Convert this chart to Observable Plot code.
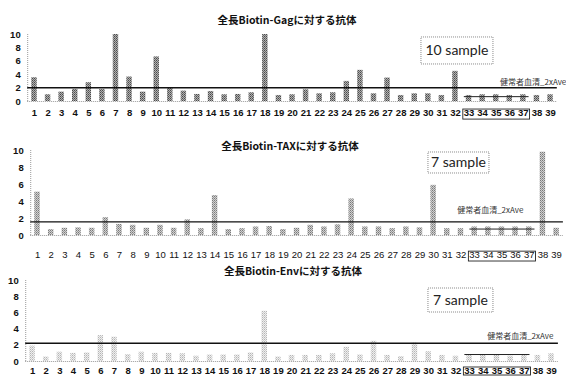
<!DOCTYPE html>
<html><head><meta charset="utf-8">
<script src="https://cdn.jsdelivr.net/npm/d3@7"></script>
<script src="https://cdn.jsdelivr.net/npm/@observablehq/plot@0.6"></script>
<style>
body{margin:0;background:#fff;width:566px;height:378px;overflow:hidden;position:relative;}
.panel{position:absolute;left:0;width:566px;}
.panel svg{background:transparent !important;overflow:visible;}
.title{position:absolute;z-index:5;font-family:"Noto Sans CJK JP",sans-serif;font-weight:bold;font-size:10.5px;white-space:nowrap;transform:translate(-50%,-50%);color:#111;}
</style></head><body>
<svg width="0" height="0" style="position:absolute"><defs>
<pattern id="pat1" width="2" height="2" patternUnits="userSpaceOnUse"><rect width="2" height="2" fill="#b0b0b0"/><rect width="1" height="1" fill="#4a4a4a"/><rect x="1" y="1" width="1" height="1" fill="#6a6a6a"/></pattern>
<pattern id="pat2" width="2" height="2" patternUnits="userSpaceOnUse"><rect width="2" height="2" fill="#d0d0d0"/><rect width="1" height="1" fill="#7a7a7a"/><rect x="1" y="1" width="1" height="1" fill="#999"/></pattern>
<pattern id="pat3" width="2" height="2" patternUnits="userSpaceOnUse"><rect width="2" height="2" fill="#eeeeee"/><rect width="1" height="1" fill="#b5b5b5"/><rect x="1" y="1" width="1" height="1" fill="#cfcfcf"/></pattern>
</defs></svg>
<div id="root"></div>
<script>
const samples = ["1","2","3","4","5","6","7","8","9","10","11","12","13","14","15","16","17","18","19","20","21","22","23","24","25","26","27","28","29","30","31","32","33","34","35","36","37","38","39"];
const yTicks = [0, 2, 4, 6, 8, 10];
const titles = ["全長Biotin-Gagに対する抗体", "全長Biotin-TAXに対する抗体", "全長Biotin-Envに対する抗体"];
const gagValues = [3.55,1.0,1.4,1.8,2.8,1.8,10,3.65,1.4,6.65,2.0,1.55,1.05,1.5,1.0,1.05,1.3,10,0.9,1.0,1.75,1.15,1.3,3.0,4.65,1.15,3.5,0.9,1.15,1.15,0.9,4.5,0.9,1.0,1.0,0.9,1.0,0.9,1.0];
const taxValues = [5.1,0.7,0.85,0.9,0.85,2.1,1.3,1.2,0.85,1.2,0.85,1.85,0.8,4.7,0.7,0.8,1.0,1.05,0.7,0.85,1.2,1.0,1.25,4.3,1.0,1.0,0.8,1.0,0.9,5.9,0.8,0.8,1.0,1.0,1.0,1.0,1.0,9.8,0.85];
const envValues = [1.9,0.55,1.15,1.0,1.05,3.2,3.0,0.85,1.15,1.0,1.0,0.95,0.65,0.8,0.8,0.8,1.05,6.2,0.55,0.75,0.75,0.75,0.95,1.75,0.8,2.5,0.75,0.6,2.3,1.2,0.75,0.65,0.75,0.75,0.75,0.65,0.75,0.75,0.95];
const thresholds = [2.05, 1.6, 2.25];          // 健常者血清_2xAve
const healthyAverages = [0.65, 0.7, 0.8];      // 33-37 average line
const sampleLabels = ["10 sample", "7 sample", "7 sample"];
const thresholdLabel = "健常者血清_2xAve";
const healthyGroup = ["33", "37"];

const layouts = [
  {top:0, height:125, mt:34, mb:24, ml:27.2, mr:9.2, xPad:8, xWeight:"bold", fill:"url(#pat1)",
   titleX:287, titleY:19, labDx:9, labDy:-5,
   box:{tx:"32", dx:2, ty:7.54, w:72, h:27}, lbox:{y1:-1.2, y2:-2.7}},
  {top:130, height:135, mt:20, mb:30, ml:30.2, mr:3.1, xPad:16, xWeight:"normal", fill:"url(#pat2)",
   titleX:290, titleY:15, labDx:-40, labDy:-11,
   box:{tx:"32", dx:-2, ty:8.53, w:61, h:21}, lbox:{y1:-1.9, y2:-3.06}},
  {top:255, height:128, mt:25, mb:22, ml:25.2, mr:8.1, xPad:6, xWeight:"bold", fill:"url(#pat3)",
   titleX:293, titleY:15, labDx:-5, labDy:-7,
   box:{tx:"32", dx:5, ty:7.53, w:65, h:24}, lbox:{y1:-0.74, y2:-1.73}}
];
const seriesList = [gagValues, taxValues, envValues];
const root = document.getElementById("root");

// annotation mark drawn with the plot's own scales
function annotations(L, k) {
  return (index, scales) => {
    const x = scales.x, y = scales.y;
    const bw = typeof x.bandwidth === "function" ? x.bandwidth() : 0;
    const g = d3.create("svg:g");
    const gx1 = x(healthyGroup[0]), gx2 = x(healthyGroup[1]) + bw;
    // average line for healthy sera 33-37
    g.append("line").attr("x1", gx1 - 2).attr("x2", gx2 + 3)
      .attr("y1", y(healthyAverages[k])).attr("y2", y(healthyAverages[k]))
      .attr("stroke", "#222").attr("stroke-width", 1);
    // box around tick labels 33-37
    g.append("rect").attr("x", gx1 - 3).attr("width", gx2 - gx1 + 7)
      .attr("y", y(L.lbox.y1)).attr("height", y(L.lbox.y2) - y(L.lbox.y1))
      .attr("fill", "none").attr("stroke", "#222").attr("stroke-width", 0.9);
    // "n sample" box
    const cx = x(L.box.tx) + bw / 2 + L.box.dx, cy = y(L.box.ty);
    g.append("rect").attr("x", cx - L.box.w / 2).attr("y", cy - L.box.h / 2)
      .attr("width", L.box.w).attr("height", L.box.h)
      .attr("fill", "white").attr("stroke", "#888").attr("stroke-dasharray", "1,1");
    g.append("text").attr("x", cx).attr("y", cy).attr("dy", "0.35em")
      .attr("text-anchor", "middle").attr("font-size", 14)
      .attr("font-family", "Lato, Open Sans, sans-serif").attr("font-weight", "normal")
      .attr("fill", "#222").text(sampleLabels[k]);
    return g.node();
  };
}

layouts.forEach((L, k) => {
  const data = samples.map((s, i) => ({sample: s, value: seriesList[k][i]}));
  const div = document.createElement("div");
  div.className = "panel";
  div.style.top = L.top + "px";
  const t = document.createElement("div");
  t.className = "title";
  t.textContent = titles[k];
  t.style.left = L.titleX + "px";
  t.style.top = L.titleY + "px";
  const chart = Plot.plot({
    width: 566, height: L.height,
    marginTop: L.mt, marginBottom: L.mb, marginLeft: L.ml, marginRight: L.mr,
    style: {fontFamily: "Liberation Sans, Arial, sans-serif", fontSize: "9.5px", color: "#111", background: "transparent"},
    x: {type: "band", domain: samples, paddingInner: 0.6, paddingOuter: 0.3, align: 0.5, round: false, label: null},
    y: {domain: [0, 10], label: null},
    marks: [
      Plot.ruleY([0], {stroke: "#999", strokeDasharray: "1,1"}),
      Plot.ruleX([samples[0]], {x: d => d, dx: -6.8, y1: 0, y2: 10, stroke: "#999", strokeDasharray: "1,1"}),
      Plot.barY(data, {x: "sample", y: "value", fill: L.fill}),
      Plot.ruleY([thresholds[k]], {stroke: "#111", strokeWidth: 1.4}),
      Plot.text([thresholdLabel], {frameAnchor: "right", y: () => thresholds[k], text: d => d, dx: L.labDx, dy: L.labDy, textAnchor: "end", fontSize: 8, fontFamily: "Noto Sans CJK JP", fill: "#333"}),
      Plot.axisY({ticks: yTicks, tickSize: 0, tickPadding: 7, fontWeight: "bold", label: null}),
      Plot.axisX({tickSize: 0, tickPadding: L.xPad, fontWeight: L.xWeight, fontSize: 9.5, label: null}),
      annotations(L, k)
    ]
  });
  div.appendChild(chart);
  div.appendChild(t);
  root.appendChild(div);
});
</script>
</body></html>
